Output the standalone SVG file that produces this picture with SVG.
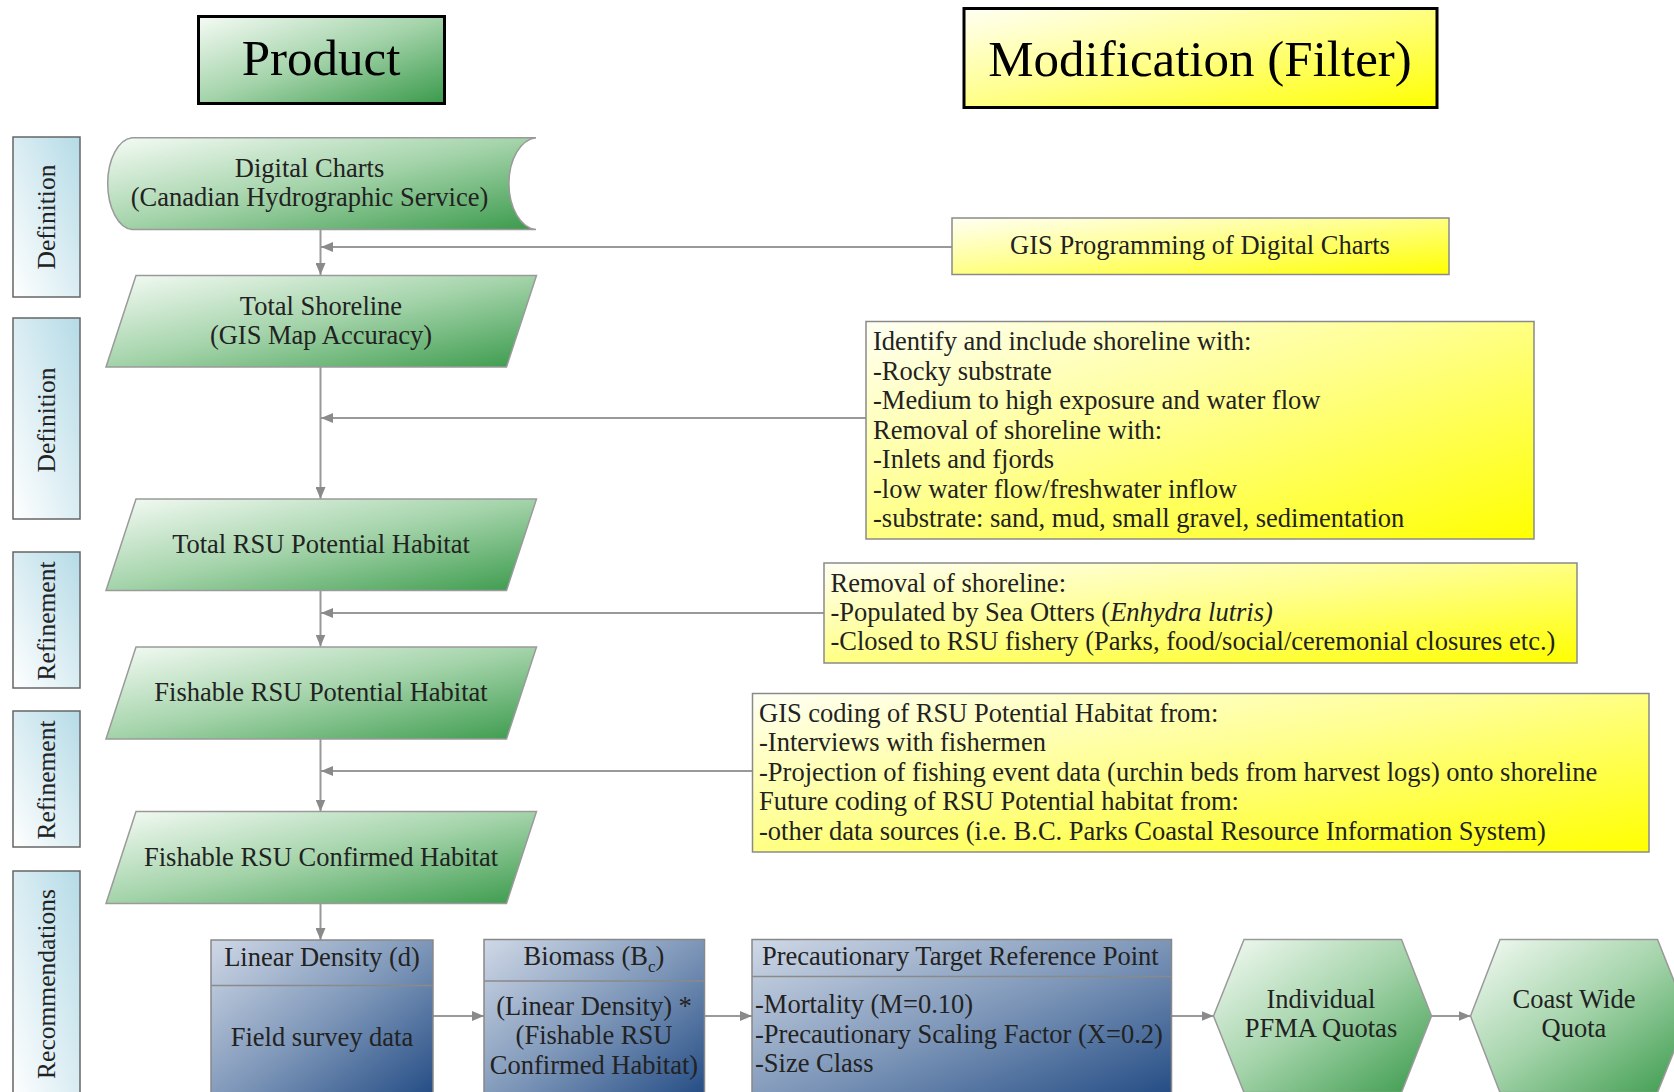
<svg xmlns="http://www.w3.org/2000/svg" width="1674" height="1092" viewBox="0 0 1674 1092">
<defs>
<linearGradient id="gGreen" x1="0" y1="0" x2="1" y2="1">
<stop offset="0" stop-color="#f5fbf5"/><stop offset="0.5" stop-color="#a3d3a9"/><stop offset="1" stop-color="#3a9a4b"/>
</linearGradient>
<linearGradient id="gYellow" x1="0" y1="0" x2="1" y2="1">
<stop offset="0" stop-color="#fffff4"/><stop offset="0.45" stop-color="#ffff90"/><stop offset="1" stop-color="#ffff00"/>
</linearGradient>
<linearGradient id="gBlue" x1="0" y1="0" x2="1" y2="1">
<stop offset="0" stop-color="#cfd8e6"/><stop offset="0.5" stop-color="#7d96b8"/><stop offset="1" stop-color="#1c4680"/>
</linearGradient>
<linearGradient id="gSide" x1="1" y1="0" x2="0" y2="1">
<stop offset="0" stop-color="#b5dbe7"/><stop offset="1" stop-color="#ffffff"/>
</linearGradient>
<marker id="arr" markerUnits="userSpaceOnUse" markerWidth="12" markerHeight="10" refX="12" refY="5" orient="auto">
<path d="M0,0 L12,5 L0,10 z" fill="#8a8a8a"/>
</marker>
</defs>
<style>
text{font-family:"Liberation Serif","Times New Roman",serif;fill:#222;}
.t{font-size:26.5px;}
.c{text-anchor:middle;}
.title{font-size:51px;fill:#000;text-anchor:middle;}
.side{font-size:25.5px;text-anchor:middle;}
.grn{fill:url(#gGreen);stroke:#9a9a9a;stroke-width:1.5;}
.yel{fill:url(#gYellow);stroke:#8a8a8a;stroke-width:1.5;}
.blu{fill:url(#gBlue);stroke:#888;stroke-width:1.5;}
.sbox{fill:url(#gSide);stroke:#666;stroke-width:1.5;}
.div{stroke:#8a8a8a;stroke-width:1.5;fill:none;}
.con{stroke:#999;stroke-width:2;fill:none;marker-end:url(#arr);}
</style>

<g id="title-product">
<rect x="198.5" y="16.5" width="246" height="87" fill="url(#gGreen)" stroke="#000" stroke-width="3"/>
<text class="title" x="321" y="75">Product</text>
</g>
<g id="title-modification">
<rect x="964" y="8.5" width="473" height="99" fill="url(#gYellow)" stroke="#000" stroke-width="3"/>
<text class="title" x="1200" y="76">Modification (Filter)</text>
</g>

<g id="side-definition-1">
<rect class="sbox" x="13" y="137" width="67" height="160"/>
<text class="side" transform="translate(55,217) rotate(-90)">Definition</text>
</g>
<g id="side-definition-2">
<rect class="sbox" x="13" y="318" width="67" height="201"/>
<text class="side" transform="translate(55,420) rotate(-90)">Definition</text>
</g>
<g id="side-refinement-1">
<rect class="sbox" x="13" y="552" width="67" height="136"/>
<text class="side" transform="translate(55,621) rotate(-90)">Refinement</text>
</g>
<g id="side-refinement-2">
<rect class="sbox" x="13" y="711" width="67" height="136"/>
<text class="side" transform="translate(55,780) rotate(-90)">Refinement</text>
</g>
<g id="side-recommendations">
<rect class="sbox" x="13" y="871" width="67" height="230"/>
<text class="side" transform="translate(55,984) rotate(-90)">Recommendations</text>
</g>

<g id="connectors">
<path class="con" d="M320.5,229.5 V275"/>
<path class="con" d="M952,247 H321"/>
<path class="con" d="M320.5,367 V499"/>
<path class="con" d="M866,418 H321"/>
<path class="con" d="M320.5,590.5 V646.5"/>
<path class="con" d="M824,613 H321"/>
<path class="con" d="M320.5,739 V811.5"/>
<path class="con" d="M752.5,771 H321"/>
<path class="con" d="M320.5,903.5 V940"/>
<path class="con" d="M433,1016 H484"/>
<path class="con" d="M704.5,1016 H752"/>
<path class="con" d="M1171.5,1016 H1213.5"/>
<path class="con" d="M1431.5,1016 H1470.5"/>
</g>

<g id="node-digital-charts">
<path class="grn" d="M132,137.7 H536 A29,46 0 0 0 536,229.5 H132 A26,46 0 0 1 132,137.7 Z"/>
<text class="t c" x="309.5" y="177">Digital Charts</text>
<text class="t c" x="309.5" y="206">(Canadian Hydrographic Service)</text>
</g>
<g id="node-total-shoreline">
<path class="grn" d="M136,275.5 H536.5 L506.5,367 H106 Z"/>
<text class="t c" x="321" y="314.5">Total Shoreline</text>
<text class="t c" x="321" y="343.5">(GIS Map Accuracy)</text>
</g>
<g id="node-total-rsu">
<path class="grn" d="M136,499 H536.5 L506.5,590.5 H106 Z"/>
<text class="t c" x="321" y="553">Total RSU Potential Habitat</text>
</g>
<g id="node-fishable-potential">
<path class="grn" d="M136,647 H536.5 L506.5,739 H106 Z"/>
<text class="t c" x="321" y="701">Fishable RSU Potential Habitat</text>
</g>
<g id="node-fishable-confirmed">
<path class="grn" d="M136,811.5 H536.5 L506.5,903.5 H106 Z"/>
<text class="t c" x="321" y="865.5">Fishable RSU Confirmed Habitat</text>
</g>

<g id="filter-gis-programming">
<rect class="yel" x="952" y="218" width="497" height="56.5"/>
<text class="t c" x="1200" y="254">GIS Programming of Digital Charts</text>
</g>
<g id="filter-identify">
<rect class="yel" x="866" y="321.5" width="668" height="217.5"/>
<text class="t" x="873" y="350">Identify and include shoreline with:</text>
<text class="t" x="873" y="379.5">-Rocky substrate</text>
<text class="t" x="873" y="409">-Medium to high exposure and water flow</text>
<text class="t" x="873" y="438.5">Removal of shoreline with:</text>
<text class="t" x="873" y="468">-Inlets and fjords</text>
<text class="t" x="873" y="497.5">-low water flow/freshwater inflow</text>
<text class="t" x="873" y="527">-substrate: sand, mud, small gravel, sedimentation</text>
</g>
<g id="filter-removal">
<rect class="yel" x="824" y="563" width="753" height="100"/>
<text class="t" x="830.5" y="591.5">Removal of shoreline:</text>
<text class="t" x="830.5" y="621">-Populated by Sea Otters (<tspan font-style="italic">Enhydra lutris)</tspan></text>
<text class="t" x="830.5" y="650">-Closed to RSU fishery (Parks, food/social/ceremonial closures etc.)</text>
</g>
<g id="filter-gis-coding">
<rect class="yel" x="752.5" y="693.5" width="896.5" height="158.5"/>
<text class="t" x="759" y="721.5">GIS coding of RSU Potential Habitat from:</text>
<text class="t" x="759" y="751">-Interviews with fishermen</text>
<text class="t" x="759" y="780.5">-Projection of fishing event data (urchin beds from harvest logs) onto shoreline</text>
<text class="t" x="759" y="810">Future coding of RSU Potential habitat from:</text>
<text class="t" x="759" y="840">-other data sources (i.e. B.C. Parks Coastal Resource Information System)</text>
</g>

<g id="node-linear-density">
<rect class="blu" x="211" y="940" width="222" height="170"/>
<line class="div" x1="211" y1="985.5" x2="433" y2="985.5"/>
<text class="t c" x="322" y="966">Linear Density (d)</text>
<text class="t c" x="322" y="1046">Field survey data</text>
</g>
<g id="node-biomass">
<rect class="blu" x="484" y="939.5" width="220.5" height="170" stroke="#444"/>
<line class="div" x1="484" y1="981" x2="704.5" y2="981"/>
<text class="t c" x="594" y="965">Biomass (B<tspan font-size="17" dy="7">c</tspan><tspan dy="-7">)</tspan></text>
<text class="t c" x="594" y="1015">(Linear Density) *</text>
<text class="t c" x="594" y="1044">(Fishable RSU</text>
<text class="t c" x="594" y="1073.5">Confirmed Habitat)</text>
</g>
<g id="node-precautionary">
<rect class="blu" x="752" y="939.5" width="419.5" height="170"/>
<line class="div" x1="752" y1="976.5" x2="1171.5" y2="976.5"/>
<text class="t" x="762" y="965">Precautionary Target Reference Point</text>
<text class="t" x="755" y="1013">-Mortality (M=0.10)</text>
<text class="t" x="755" y="1042.5">-Precautionary Scaling Factor (X=0.2)</text>
<text class="t" x="755" y="1072">-Size Class</text>
</g>
<g id="node-pfma-quotas">
<path class="grn" d="M1244,939.5 H1401.5 L1431.5,1016 L1401.5,1092.5 H1244 L1213.5,1016 Z"/>
<text class="t c" x="1321" y="1008">Individual</text>
<text class="t c" x="1321" y="1037">PFMA Quotas</text>
</g>
<g id="node-coast-wide">
<path class="grn" d="M1500,939.5 H1657.5 L1688,1016 L1657.5,1092.5 H1500 L1470.5,1016 Z"/>
<text class="t c" x="1574" y="1008">Coast Wide</text>
<text class="t c" x="1574" y="1037">Quota</text>
</g>
</svg>
